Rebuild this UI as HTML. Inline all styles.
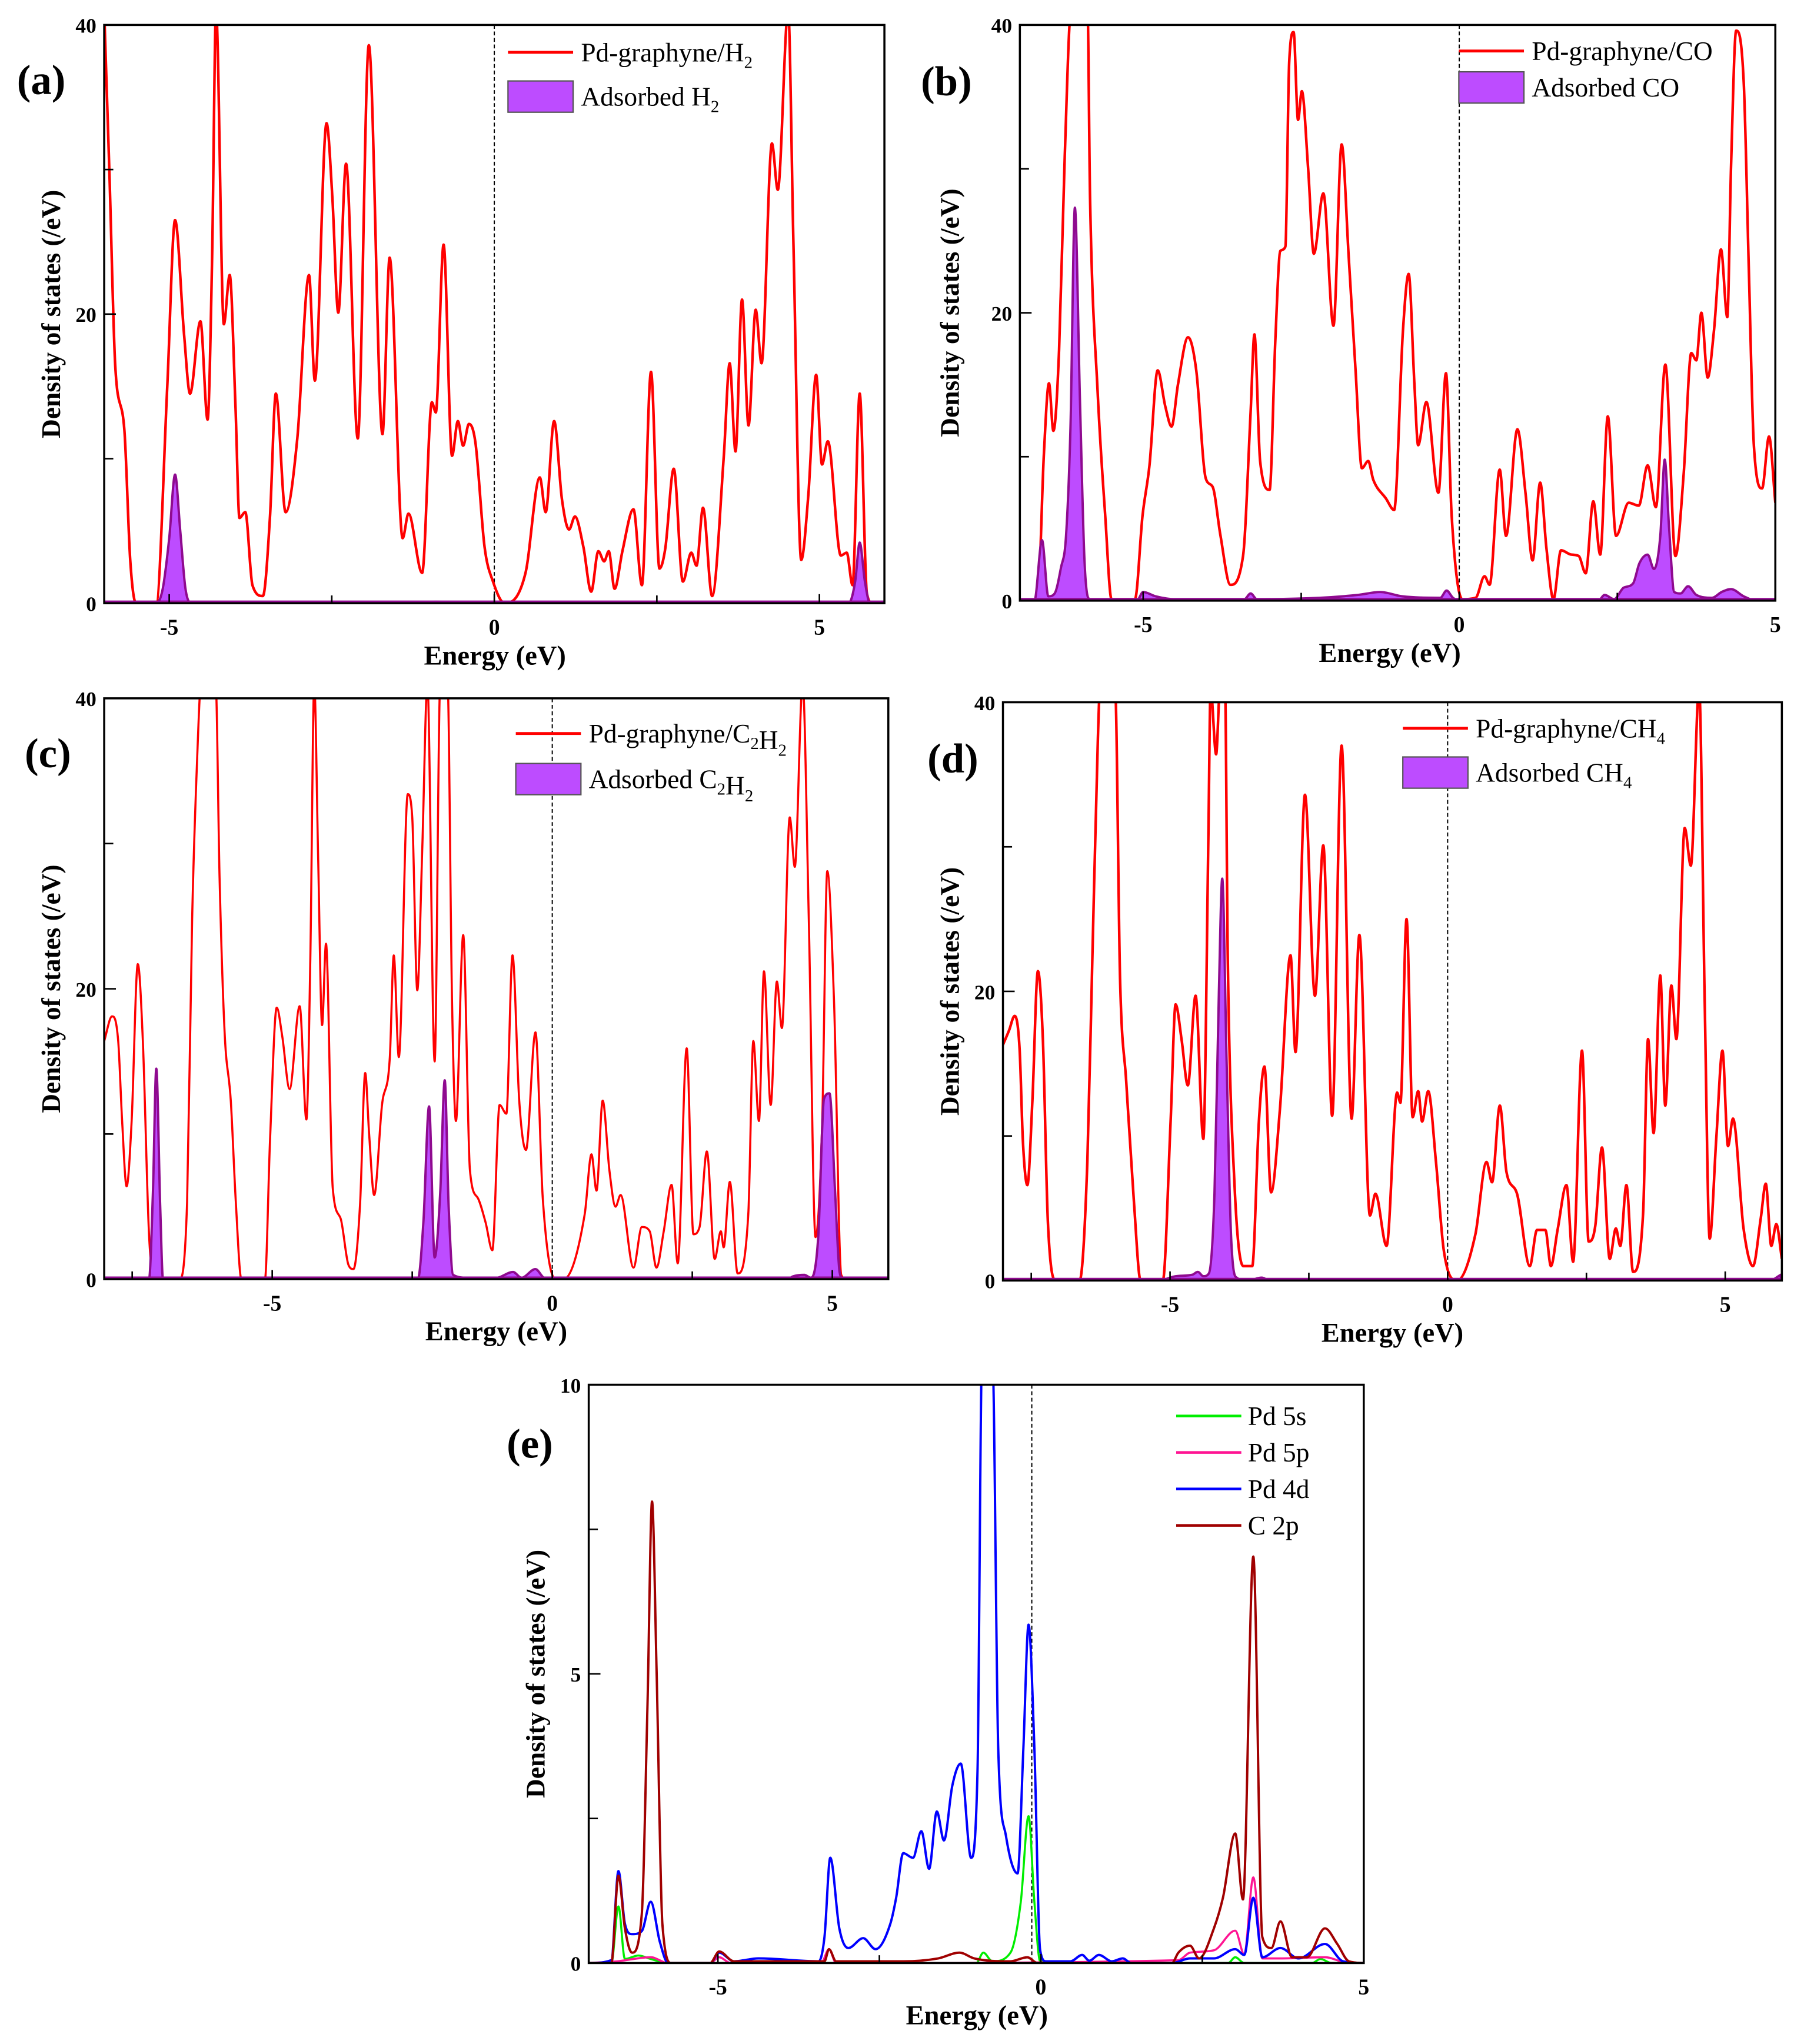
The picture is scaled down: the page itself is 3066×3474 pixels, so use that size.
<!DOCTYPE html>
<html><head><meta charset="utf-8">
<style>
html,body{margin:0;padding:0;background:#fff;}
svg{display:block;}
text{font-family:"Liberation Serif",serif;}
</style></head>
<body>
<svg id="fig" width="3066" height="3474" viewBox="0 0 1385 1569" xmlns="http://www.w3.org/2000/svg"></svg>
<script>
// ---------- Panel (a) data ----------
const aRedE=[-6,-5.92,-5.83,-5.69,-5.6,-5.51,-5.2,-5.03,-4.91,-4.77,-4.68,-4.52,-4.41,-4.34,-4.28,-4.16,-4.07,-3.98,-3.92,-3.83,-3.72,-3.56,-3.45,-3.36,-3.21,-3.03,-2.85,-2.76,-2.58,-2.49,-2.4,-2.28,-2.1,-1.93,-1.72,-1.61,-1.41,-1.32,-1.11,-0.96,-0.9,-0.78,-0.65,-0.56,-0.48,-0.39,-0.29,-0.15,-0.02,0.16,0.48,0.7,0.79,0.92,1.04,1.15,1.24,1.37,1.49,1.6,1.69,1.76,1.85,1.97,2.14,2.27,2.41,2.54,2.63,2.76,2.9,3.03,3.11,3.21,3.35,3.53,3.62,3.71,3.81,3.91,4.02,4.11,4.27,4.36,4.52,4.6,4.72,4.83,4.95,5.04,5.13,5.33,5.42,5.51,5.62,5.73,5.82,6];
const aRedD=[41,29.8,16.4,12,3,0,0,15,26.5,18.5,14.5,19.5,12.7,24,41,19.3,22.7,13.5,5.9,6.3,1.25,0.5,6,14.5,6.3,11.4,22.7,15.4,33.2,28,20.1,30.4,11.4,38.6,11.7,23.9,4.5,6.2,2.1,13.9,13.2,24.8,10.2,12.6,10.9,12.4,11.1,3.9,1.5,0,2.1,8.7,6.3,12.6,7.2,5.1,6,3.9,0.8,3.6,2.9,3.6,1,3.6,6.5,1.25,16,2.4,3.8,9.3,1.5,3.5,2.6,6.6,0.5,10.2,16.6,10.5,21,12.3,20.3,16.6,31.8,28.6,41,25,3,7.5,15.8,9.6,11.2,3.3,3.5,1.25,14.5,0.7,0,0];
const aAdsE=[-6,-5.2,-5.1,-5.0,-4.91,-4.83,-4.75,-4.65,-1.2,-0.9,0,5.45,5.55,5.62,5.7,5.78,6];
const aAdsD=[0,0,1,4.5,8.9,5,1,0,0.05,0.1,0,0,1.5,4.2,1.5,0,0];
// ---------- Panel (b) data ----------
const bRedE=[-6.95,-6.67,-6.57,-6.49,-6.42,-6.33,-6.24,-6.14,-5.88,-5.84,-5.72,-5.6,-5.5,-5.13,-5.01,-4.9,-4.77,-4.65,-4.55,-4.45,-4.29,-4.16,-4.01,-3.9,-3.78,-3.62,-3.42,-3.3,-3.24,-3.15,-3.0,-2.91,-2.83,-2.75,-2.69,-2.62,-2.55,-2.49,-2.39,-2.3,-2.15,-1.99,-1.86,-1.75,-1.64,-1.54,-1.44,-1.36,-1.16,-1.03,-0.89,-0.8,-0.71,-0.65,-0.52,-0.33,-0.21,-0.12,0.05,0.26,0.4,0.48,0.64,0.74,0.92,1.05,1.16,1.28,1.38,1.49,1.61,1.77,1.89,2.0,2.12,2.23,2.35,2.48,2.68,2.84,2.98,3.11,3.26,3.42,3.55,3.67,3.75,3.83,3.93,4.03,4.14,4.24,4.3,4.38,4.5,4.58,4.66,4.79,4.9,5.0];
const bRedD=[0,0,10.2,15.1,11.8,17.4,30.9,41,41,28,14.5,5.9,0.1,0.1,5.9,9.4,16,13.5,12.1,15,18.3,16,8.5,7.9,4.6,1.1,3.1,13.1,18.5,9.7,7.7,18,24.3,24.6,37.4,39.5,33.4,35.4,30,24.1,28.3,19.1,31.7,24,16,9.2,9.7,8.4,7.1,6.3,18.8,22.7,15.1,10.8,13.8,7.5,15.8,5.9,0.1,0.2,1.7,1.1,9.1,4.5,11.9,7.4,2.8,8.2,3.6,0.1,3.5,3.2,3.1,1.9,6.9,3.2,12.8,4.5,6.8,6.6,9.4,6.5,16.4,3.1,8.8,17.2,16.7,20,15.5,18.8,24.4,19.7,30.3,39.6,36,23.1,10.8,7.8,11.4,6.8];
const bAdsE=[-6.95,-6.72,-6.6,-6.5,-6.4,-6.3,-6.22,-6.15,-6.08,-6.0,-5.93,-5.87,-5.8,-5.1,-5.0,-4.8,-4.5,-3.4,-3.3,-3.2,-2.2,-1.6,-1.25,-0.9,-0.3,-0.2,-0.1,0,2.2,2.3,2.45,2.6,2.75,2.85,2.98,3.08,3.18,3.25,3.32,3.4,3.5,3.62,3.75,4.0,4.15,4.3,4.5,4.7,5];
const bAdsD=[0,0,4.2,0.3,0.5,2.3,4.5,12,27.3,14,3,0.2,0,0,0.6,0.3,0.1,0.1,0.5,0.1,0.2,0.4,0.6,0.3,0.2,0.7,0.2,0,0,0.4,0.1,0.9,1.2,2.6,3.2,2.2,4.5,9.8,5,0.6,0.5,1.0,0.4,0.2,0.6,0.8,0.3,0,0];
// ---------- Panel (c) data ----------
const cRedE=[-8.0,-7.86,-7.75,-7.68,-7.6,-7.51,-7.4,-7.31,-7.2,-7.12,-6.94,-6.66,-6.52,-6.43,-6.34,-6.27,-6.01,-5.94,-5.85,-5.74,-5.65,-5.55,-5.13,-5.04,-4.92,-4.82,-4.69,-4.51,-4.39,-4.32,-4.25,-4.18,-4.11,-4.04,-3.92,-3.78,-3.64,-3.55,-3.43,-3.34,-3.27,-3.18,-3.04,-2.9,-2.83,-2.74,-2.58,-2.5,-2.41,-2.32,-2.23,-2.1,-2.0,-1.87,-1.79,-1.72,-1.59,-1.47,-1.33,-1.19,-1.07,-0.94,-0.82,-0.71,-0.59,-0.47,-0.3,-0.17,0.06,0.2,0.58,0.7,0.79,0.9,1.02,1.13,1.22,1.45,1.6,1.74,1.86,1.99,2.13,2.24,2.4,2.52,2.63,2.76,2.9,3.01,3.06,3.17,3.31,3.5,3.59,3.69,3.78,3.9,4.01,4.1,4.24,4.33,4.47,4.58,4.7,4.82,4.91,5.03,5.16,5.26,6];
const cRedD=[16.4,18.1,16.4,10.9,6.4,10.9,21.7,16.4,3.1,0.3,0,0,5.3,24.8,35.9,41,41,27.6,17,12.3,5.3,0,0,9.5,18.7,16.7,13.1,18.8,11,22,41,29,17.5,23.1,6.3,4.2,1,0.7,5.3,14.2,10,5.8,12,15.3,22.3,15.3,33.4,31.8,19.9,29.8,41,15,41,41,19.2,10.9,23.7,7.5,5.6,3.9,2,12,11.4,22.3,12.3,8.9,17,5.6,0,0,4.5,8.6,6.1,12.3,7.5,5,5.8,0.8,3.6,3.3,0.8,3.3,6.5,1.1,15.9,3.1,3.6,8.8,1.4,3.3,2.2,6.7,0.4,4.5,16.4,10.9,21.2,12,20.5,17.3,31.8,28.4,41,24.8,2.9,10.9,28.1,19.2,0.3,0,0];
const cAdsE=[-8,-7.2,-7.13,-7.07,-7.0,-6.95,-2.4,-2.3,-2.2,-2.1,-2.0,-1.92,-1.85,-1.77,-1.5,-1.0,-0.7,-0.55,-0.3,-0.15,0,4.2,4.3,4.5,4.62,4.75,4.85,4.95,5.05,5.13,5.2,6];
const cAdsD=[0,0,6,14.5,5,0,0,4,11.9,1.5,6,13.7,5,0.3,0.1,0.1,0.5,0.1,0.7,0.1,0,0,0.2,0.3,0.1,3,12.4,12.8,6,0.5,0,0];
// ---------- Panel (d) data ----------
const dRedE=[-8.01,-7.9,-7.8,-7.71,-7.65,-7.57,-7.48,-7.38,-7.29,-7.2,-7.05,-6.63,-6.49,-6.4,-6.3,-6.26,-5.99,-5.9,-5.79,-5.65,-5.53,-5.13,-4.99,-4.9,-4.79,-4.68,-4.54,-4.4,-4.31,-4.27,-4.17,-4.1,-4.01,-3.96,-3.84,-3.68,-3.52,-3.4,-3.3,-3.18,-3.02,-2.83,-2.74,-2.57,-2.39,-2.24,-2.08,-1.91,-1.73,-1.59,-1.4,-1.3,-1.1,-0.91,-0.85,-0.74,-0.63,-0.53,-0.46,-0.35,-0.21,-0.07,0.17,0.5,0.7,0.8,0.94,1.06,1.25,1.48,1.61,1.76,1.86,1.98,2.14,2.26,2.42,2.54,2.66,2.78,2.92,3.03,3.11,3.22,3.34,3.52,3.61,3.71,3.83,3.92,4.03,4.12,4.27,4.38,4.53,4.63,4.72,4.84,4.95,5.05,5.14,5.33,5.5,5.64,5.73,5.83,5.92,6.02];
const dRedD=[16.3,17.3,18.3,16,9.6,6.6,12.4,21.4,16.6,4,0,0,8.2,22.2,37.5,41,41,20.8,13.8,5.4,0,0,11,19.1,16.6,13.5,19.7,9.8,30.6,41,36.4,41,41,22.2,6.7,1,1,11,14.8,6.1,11.9,22.5,15.8,33.6,19.7,30.1,11.4,37,11.2,23.9,4.5,6,2.4,13,12.3,25,11.3,13.1,11,13.1,8.2,2.1,0,3.2,8.2,6.8,12.1,7.5,6,1,3.5,3.5,1,3.5,6.6,1.3,15.9,2.7,3.8,9.2,1.5,3.6,2.4,6.6,0.6,4.6,16.7,10.2,21.1,12.1,20.4,16.7,31.3,28.7,41,19.4,2.9,9.9,15.9,9.3,11.2,3.6,1,4.3,6.7,2.4,3.9,1.5];
const dAdsE=[-8,-5.2,-4.9,-4.6,-4.5,-4.4,-4.3,-4.2,-4.12,-4.06,-3.98,-3.9,-3.8,-3.6,-3.35,-3.2,5.8,6];
const dAdsD=[0,0,0.3,0.4,0.6,0.3,0.5,6,20,27.8,15,3,0.2,0,0.2,0,0,0.4];
// ---------- Panel (e) data ----------
const e4dE=[-7,-6.65,-6.54,-6.44,-6.33,-6.18,-6.04,-5.9,-5.77,-5.12,-4.98,-4.75,-4.37,-3.44,-3.35,-3.26,-3.12,-2.98,-2.75,-2.56,-2.33,-2.24,-2.13,-1.98,-1.85,-1.73,-1.61,-1.5,-1.37,-1.24,-1.08,-0.98,-0.91,-0.83,-0.75,-0.66,-0.54,-0.36,-0.27,-0.19,-0.1,-0.01,0.08,0.46,0.64,0.75,0.9,1.1,1.27,1.4,2.03,2.31,2.68,3.01,3.15,3.29,3.43,3.71,3.99,4.4,4.68,5];
const e4dD=[0,0.05,1.59,0.68,0.5,0.55,1.06,0.37,0,0,0.18,0.03,0.08,0.03,0.45,1.82,0.6,0.26,0.43,0.24,0.68,1.13,1.9,1.82,2.28,1.63,2.62,2.12,3.07,3.45,1.82,3.34,10.5,10.5,10.5,3.72,2.2,1.55,3.72,5.85,3.72,0.22,0.03,0.03,0.14,0.04,0.14,0.03,0.08,0,0,0.08,0.08,0.24,0.14,1.13,0.1,0.26,0.08,0.33,0.03,0];
const eC2pE=[-7,-6.65,-6.54,-6.44,-6.33,-6.18,-6.09,-6.02,-5.95,-5.86,-5.72,-5.12,-4.98,-4.75,-3.35,-3.28,-3.17,-2.13,-1.59,-1.26,-1.03,-0.47,-0.21,-0.05,2.03,2.13,2.31,2.45,2.68,2.82,3.01,3.13,3.29,3.43,3.57,3.71,3.89,4.12,4.4,4.59,4.77,5];
const eC2pD=[0,0,1.51,0.6,0.18,0.83,4.48,7.98,5.08,0.68,0,0,0.2,0.03,0.03,0.24,0.03,0.03,0.08,0.18,0.08,0.03,0.1,0,0,0.18,0.3,0.08,0.6,1.13,2.24,1.1,7.03,0.45,0.26,0.72,0.1,0.1,0.6,0.33,0.03,0];
const e5sE=[-7,-6.65,-6.54,-6.44,-6.23,-6.04,-5.77,-1.0,-0.89,-0.75,-0.47,-0.31,-0.19,-0.1,-0.01,2.9,3.01,3.15,4.2,4.33,4.5,5];
const e5sD=[0,0,0.98,0.07,0.13,0.07,0,0,0.18,0.03,0.18,1.06,2.54,1.06,0.03,0,0.1,0,0,0.07,0,0];
const e5pE=[-7,-6.56,-6.04,-5.77,-5.12,-4.98,-4.8,-3.4,-3.28,-3.17,2.13,2.31,2.68,3.01,3.15,3.29,3.43,3.71,4.4,4.77,5];
const e5pD=[0,0.03,0.1,0,0,0.1,0,0,0.24,0,0.05,0.18,0.22,0.56,0.15,1.48,0.08,0.08,0.1,0,0];

const xTicksLabels=["-5","0","5"];
const xTickVals=[-5,0,5];

const NS="http://www.w3.org/2000/svg";
const fig=document.getElementById('fig');
function mk(tag,attrs,parent){const el=document.createElementNS(NS,tag);for(const k in attrs)el.setAttribute(k,attrs[k]);(parent||fig).appendChild(el);return el;}

// monotone cubic (Fritsch-Carlson) path through pixel points
function monoPath(X,Y){
  const n=X.length; if(n<2) return '';
  const d=[],m=new Array(n);
  for(let i=0;i<n-1;i++){const h=X[i+1]-X[i];d.push(h===0?0:(Y[i+1]-Y[i])/h);}
  m[0]=d[0];m[n-1]=d[n-2];
  for(let i=1;i<n-1;i++){m[i]=(d[i-1]*d[i]<=0)?0:(d[i-1]+d[i])/2;}
  for(let i=0;i<n-1;i++){
    if(d[i]===0){m[i]=0;m[i+1]=0;continue;}
    const a=m[i]/d[i],b=m[i+1]/d[i],s=a*a+b*b;
    if(s>9){const t=3/Math.sqrt(s);m[i]=t*a*d[i];m[i+1]=t*b*d[i];}
  }
  let p='M'+X[0].toFixed(2)+','+Y[0].toFixed(2);
  for(let i=0;i<n-1;i++){
    const h=(X[i+1]-X[i])/3;
    p+=' C'+(X[i]+h).toFixed(2)+','+(Y[i]+m[i]*h).toFixed(2)+' '+(X[i+1]-h).toFixed(2)+','+(Y[i+1]-m[i+1]*h).toFixed(2)+' '+X[i+1].toFixed(2)+','+Y[i+1].toFixed(2);
  }
  return p;
}

function panel(p){
  const g=mk('g',{});
  
  
  const sx=e=>p.x0+(e-p.xmin)/(p.xmax-p.xmin)*(p.x1-p.x0);
  const sy=d=>p.y1-d/p.ymax*(p.y1-p.y0);
  const cid='clip-'+p.id;
  const cp=mk('clipPath',{id:cid},g);
  mk('rect',{x:p.x0,y:p.y0,width:p.x1-p.x0,height:p.y1-p.y0},cp);
  const fl=mk('line',{x1:sx(p.fermi),x2:sx(p.fermi),y1:p.y0,y2:p.y1,stroke:'#000','stroke-width':0.9,'stroke-dasharray':'3,2'},g);
  
  
  const plot=mk('g',{'clip-path':'url(#'+cid+')'},g);
  (p.series||[]).forEach(s=>{
    const X=s.E.map(sx),Y=s.D.map(sy);
    const path=monoPath(X,Y);
    if(s.fill){
      const pa=mk('path',{d:path+' L'+X[X.length-1].toFixed(2)+','+sy(0)+' L'+X[0].toFixed(2)+','+sy(0)+' Z',fill:'#bd4cff',stroke:'#8f0a8f','stroke-width':1.8,'stroke-linejoin':'round'},plot);
      
      
      const bl=mk('line',{x1:p.x0,x2:p.x1,y1:sy(0)-1,y2:sy(0)-1,stroke:'#8f0a8f','stroke-width':2.2},plot);
      
      
    } else {
      const pl=mk('path',{d:path,fill:'none',stroke:s.color,'stroke-width':s.w||2,'stroke-linejoin':'round'},plot);
      
      
    }
  });
  const fr=mk('rect',{x:p.x0,y:p.y0,width:p.x1-p.x0,height:p.y1-p.y0,fill:'none',stroke:'#000','stroke-width':1.6},g);
  
  
  for(let v=Math.ceil(p.xmin/2.5)*2.5; v<=p.xmax+1e-6; v+=2.5){
    const major=Math.abs(v%5)<1e-6;
    const t=mk('line',{x1:sx(v),x2:sx(v),y1:p.y1,y2:p.y1-(major?7:6),stroke:'#000','stroke-width':1.2},g);
    
    
  }
  xTickVals.forEach((v,i)=>{
    const t=mk('text',{x:sx(v),y:p.y1+24,'font-size':17,'font-weight':'bold','text-anchor':'middle'},g);
    t.textContent=xTicksLabels[i];
    
    
  });
  for(let k=1;k<4;k++){
    const v=p.ymax*k/4;
    const t=mk('line',{x1:p.x0,x2:p.x0+(k==2?9:7),y1:sy(v),y2:sy(v),stroke:'#000','stroke-width':1.2},g);
    
    
  }
  p.yLabels.forEach((lab,i)=>{
    const v=p.ymax*i/2;
    const t=mk('text',{x:p.x0-6,y:sy(v)+6,'font-size':16,'font-weight':'bold','text-anchor':'end'},g);
    t.textContent=lab;
    
    
  });
  const xt=mk('text',{x:p.xtX,y:p.y1+47,'font-size':21,'font-weight':'bold','text-anchor':'middle'},g);
  xt.textContent='Energy (eV)';
  
  
  const yc=(p.y0+p.y1)/2;
  const yt=mk('text',{x:0,y:0,'font-size':20.5,'font-weight':'bold','text-anchor':'middle',transform:'translate('+p.ytX+','+yc+') rotate(-90)'},g);
  yt.textContent='Density of states (/eV)';
  
  
  const pl=mk('text',{x:p.lab[0],y:p.lab[1],'font-size':32,'font-weight':'bold'},g);
  pl.textContent='('+p.id+')';
  
  
  return {g,sx,sy};
}

function legendRed(g,x,y,html){
  const l=mk('line',{x1:x,x2:x+50,y1:y,y2:y,stroke:'#ff0000','stroke-width':2.2},g);
  
  
  const t=mk('text',{x:x+56,y:y+7,'font-size':20.5},g);
  t.innerHTML=html;
  
  
}
function legendPurple(g,x,y,html){
  const r=mk('rect',{x:x,y:y-12,width:50,height:24,fill:'#bd4cff',stroke:'#555','stroke-width':1},g);
  
  
  const t=mk('text',{x:x+56,y:y+7,'font-size':20.5},g);
  t.innerHTML=html;
  
  
}
const sub=s=>'<tspan font-size="13" dy="5">'+s+'</tspan><tspan dy="-5"></tspan>';

let P=panel({id:'a',x0:80,x1:679,y0:19,y1:463,xmin:-6,xmax:6,ymax:40,fermi:0,yLabels:['0','20','40'],xtX:380,ytX:46,lab:[13,72],
  series:[{name:'red-total-dos-a',E:aRedE,D:aRedD,color:'#ff0000'},{name:'purple-adsorbed-h2',E:aAdsE,D:aAdsD,fill:true}]});
legendRed(P.g,390,40,'Pd-graphyne/H'+sub('2'));
legendPurple(P.g,390,74,'Adsorbed H'+sub('2'));
P=panel({id:'b',x0:783,x1:1363,y0:19,y1:461,xmin:-6.95,xmax:5,ymax:40,fermi:0,yLabels:['0','20','40'],xtX:1067,ytX:736,lab:[707,73],
  series:[{name:'red-total-dos-b',E:bRedE,D:bRedD,color:'#ff0000'},{name:'purple-adsorbed-co',E:bAdsE,D:bAdsD,fill:true}]});
legendRed(P.g,1120,39,'Pd-graphyne/CO');
legendPurple(P.g,1120,67,'Adsorbed CO');
P=panel({id:'c',x0:80,x1:682,y0:536,y1:982,xmin:-8,xmax:6,ymax:40,fermi:0,yLabels:['0','20','40'],xtX:381,ytX:46,lab:[19,589],
  series:[{name:'red-total-dos-c',E:cRedE,D:cRedD,color:'#ff0000',w:1.6},{name:'purple-adsorbed-c2h2',E:cAdsE,D:cAdsD,fill:true}]});
legendRed(P.g,396,563,'Pd-graphyne/C'+sub('2')+'H'+sub('2'));
legendPurple(P.g,396,598,'Adsorbed C'+sub('2')+'H'+sub('2'));
P=panel({id:'d',x0:770,x1:1368,y0:539,y1:983,xmin:-8.01,xmax:6.02,ymax:40,fermi:0,yLabels:['0','20','40'],xtX:1069,ytX:736,lab:[712,593],
  series:[{name:'red-total-dos-d',E:dRedE,D:dRedD,color:'#ff0000'},{name:'purple-adsorbed-ch4',E:dAdsE,D:dAdsD,fill:true}]});
legendRed(P.g,1077,559,'Pd-graphyne/CH'+sub('4'));
legendPurple(P.g,1077,593,'Adsorbed CH'+sub('4'));
P=panel({id:'e',x0:452,x1:1047,y0:1063,y1:1507,xmin:-7,xmax:5,ymax:10,fermi:-0.14,yLabels:['0','5','10'],xtX:750,ytX:418,lab:[389,1119],
  series:[{name:'pd-5s-curve',E:e5sE,D:e5sD,color:'#00ee00',w:1.6},{name:'pd-5p-curve',E:e5pE,D:e5pD,color:'#ff1493',w:1.6},{name:'pd-4d-curve',E:e4dE,D:e4dD,color:'#0000ff',w:1.8},{name:'c-2p-curve',E:eC2pE,D:eC2pD,color:'#a00000',w:1.8}]});
[['Pd 5s','#00ee00'],['Pd 5p','#ff1493'],['Pd 4d','#0000ff'],['C 2p','#a00000']].forEach((it,i)=>{
  const y=1087+i*28;
  const l=mk('line',{x1:903,x2:953,y1:y,y2:y,stroke:it[1],'stroke-width':2},P.g);
  
  
  const t=mk('text',{x:958,y:y+7,'font-size':20.5},P.g);
  t.textContent=it[0];
  
  
});
</script>
</body></html>
